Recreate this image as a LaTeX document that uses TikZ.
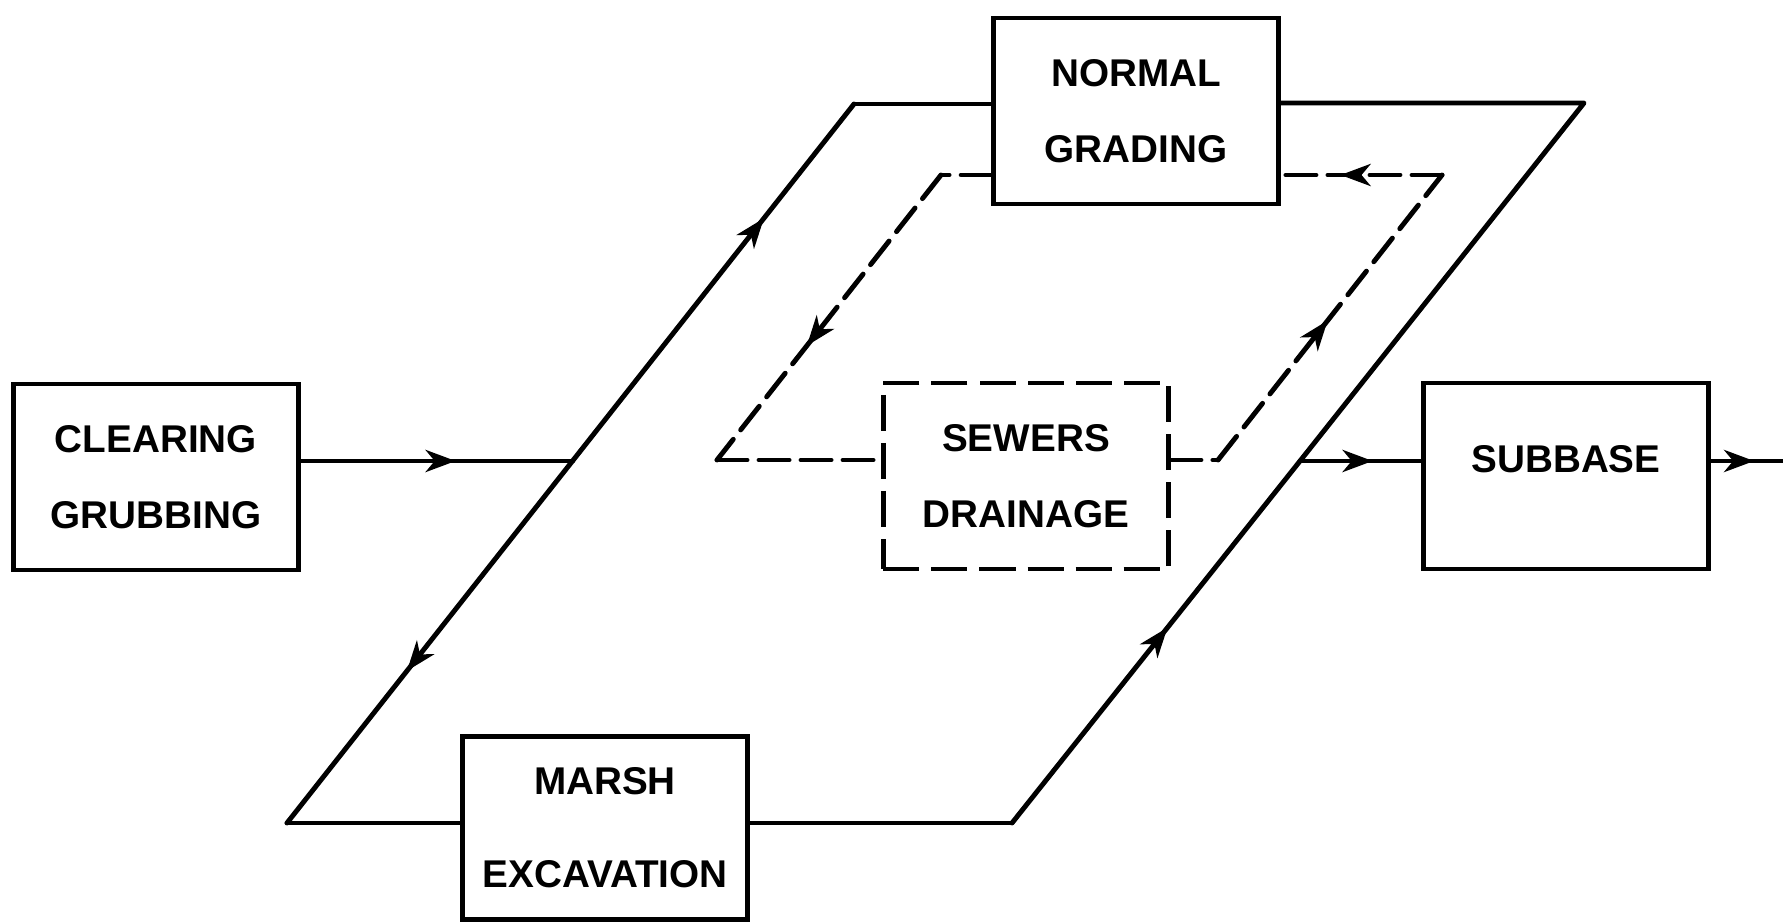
\documentclass[tikz,border=0pt]{standalone}
\usepackage{fontspec}
\setmainfont{Liberation Sans}
\usetikzlibrary{arrows.meta,decorations.markings}

\tikzset{
  stage/.style={draw, line width=1.3pt, minimum width=2.85cm, minimum height=1.86cm,
    align=center, font=\bfseries\fontsize{11}{21.5}\selectfont},
  loopline/.style={line width=1.4pt, line cap=round, line join=round},
  dashline/.style={loopline, dash pattern=on 0.3cm off 0.12cm},
  midarrow/.style={postaction={decorate}, decoration={markings,
    mark=at position #1 with {\arrow{Stealth[length=0.3cm,width=0.22cm,inset=0.09cm]}}}},
}

\begin{document}
\begin{tikzpicture}[x=0.01cm, y=-0.01cm]
\useasboundingbox (0,0) rectangle (1783,922);

% stages
\node[stage] (clear) at (156,477) {CLEARING\\GRUBBING};
\node[stage] (normal) at (1136,111) {NORMAL\\GRADING};
\node[stage, dash pattern=on 0.36cm off 0.12cm] (sewers) at (1026,476) {SEWERS\\DRAINAGE};
\node[stage, text depth=9.6pt] (subbase) at (1566,476) {SUBBASE};
\node[stage, minimum height=1.83cm, font=\bfseries\fontsize{11}{26.5}\selectfont] (marsh) at (605,828) {MARSH\\EXCAVATION};

% corners of the two loops
\coordinate (tl) at (854,104);
\coordinate (tr) at (1584,103);
\coordinate (bl) at (287,823);
\coordinate (br) at (1012,823);
\coordinate (jl) at (572.5,461);
\coordinate (jr) at (1300,461);
\coordinate (dtl) at (941,175);
\coordinate (dtr) at (1442,175);
\coordinate (dbl) at (717,460);
\coordinate (dbr) at (1218,460);
\coordinate (out) at (1783,461);

% solid loop
\draw[loopline, midarrow=0.57] (jl -| clear.east) -- (jl);
\draw[loopline, midarrow=0.68] (jl) -- (tl);
\draw[loopline] (tl) -- (normal.west |- tl);
\draw[loopline, midarrow=0.58] (jl) -- (bl);
\draw[loopline] (bl) -- (marsh.west |- bl);
\draw[loopline] (marsh.east |- br) -- (br);
\draw[loopline, midarrow=0.54] (br) -- (jr);
\draw[loopline] (jr) -- (tr) -- (normal.east |- tr);
\draw[loopline, midarrow=0.6] (jr) -- (subbase.west |- jr);
\draw[loopline, midarrow=0.6] (subbase.east |- out) -- (out);

% dashed loop
\draw[dashline] (normal.west |- dtl) -- (dtl);
\draw[dashline, midarrow=0.6] (dtl) -- (dbl);
\draw[dashline] (dbl) -- (sewers.west |- dbl);
\draw[dashline] (sewers.east |- dbr) -- (dbr);
\draw[dashline, midarrow=0.49] (dbr) -- (dtr);
\draw[dashline, midarrow=0.63] (dtr) -- (normal.east |- dtr);
\end{tikzpicture}
\end{document}
